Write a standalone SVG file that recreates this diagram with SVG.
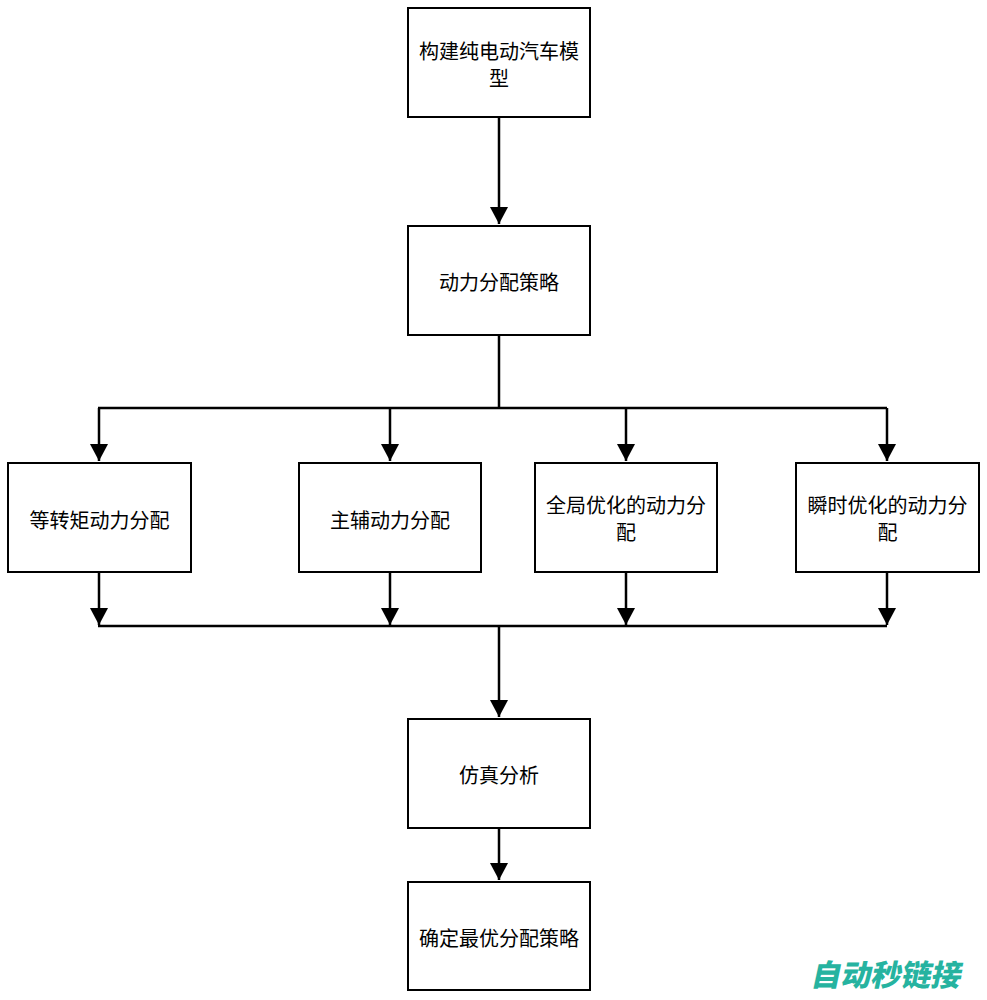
<svg xmlns="http://www.w3.org/2000/svg" width="987" height="1000" viewBox="0 0 987 1000">
<style>
.box{fill:#fff;stroke:#000;stroke-width:2}
.t{font-family:"Noto Sans CJK SC","Noto Sans",sans-serif;font-size:20px;fill:#000;text-anchor:middle;dominant-baseline:central}
.c{stroke:#000;stroke-width:2.5;fill:none}
.wm{font-family:"Noto Sans CJK SC",sans-serif;font-size:30px;font-weight:900;fill:#26b3a0}
</style>
<defs>
<marker id="ah" markerUnits="userSpaceOnUse" markerWidth="18" markerHeight="18" viewBox="0 0 18 18" refX="17" refY="9" orient="auto">
<path d="M0,0 L17,9 L0,18 Z" fill="#000"/>
</marker>
</defs>
<rect width="987" height="1000" fill="#fff"/>
<g id="connectors">
<path class="c" d="M499,117 V224" marker-end="url(#ah)"/>
<path class="c" d="M499,335 V408"/>
<path class="c" d="M98,408 H887"/>
<path class="c" d="M99,408 V461" marker-end="url(#ah)"/>
<path class="c" d="M390,408 V461" marker-end="url(#ah)"/>
<path class="c" d="M626,408 V461" marker-end="url(#ah)"/>
<path class="c" d="M887,408 V461" marker-end="url(#ah)"/>
<path class="c" d="M99,572 V625" marker-end="url(#ah)"/>
<path class="c" d="M390,572 V625" marker-end="url(#ah)"/>
<path class="c" d="M626,572 V625" marker-end="url(#ah)"/>
<path class="c" d="M887,572 V625" marker-end="url(#ah)"/>
<path class="c" d="M98,626 H887"/>
<path class="c" d="M499,626 V717" marker-end="url(#ah)"/>
<path class="c" d="M499,828 V880" marker-end="url(#ah)"/>
</g>
<g id="n1"><rect class="box" x="408" y="8" width="182" height="109"/><text class="t" x="499" y="50">构建纯电动汽车模</text><text class="t" x="499" y="77">型</text></g>
<g id="n2"><rect class="box" x="408" y="226" width="182" height="109"/><text class="t" x="499" y="281">动力分配策略</text></g>
<g id="n3"><rect class="box" x="8" y="463" width="183" height="109"/><text class="t" x="99.5" y="519">等转矩动力分配</text></g>
<g id="n4"><rect class="box" x="299" y="463" width="182" height="109"/><text class="t" x="390" y="519">主辅动力分配</text></g>
<g id="n5"><rect class="box" x="535" y="463" width="182" height="109"/><text class="t" x="626" y="504">全局优化的动力分</text><text class="t" x="626" y="531">配</text></g>
<g id="n6"><rect class="box" x="796" y="463" width="183" height="109"/><text class="t" x="887.5" y="504">瞬时优化的动力分</text><text class="t" x="887.5" y="531">配</text></g>
<g id="n7"><rect class="box" x="408" y="719" width="182" height="109"/><text class="t" x="499" y="774">仿真分析</text></g>
<g id="n8"><rect class="box" x="408" y="882" width="182" height="108"/><text class="t" x="499" y="937">确定最优分配策略</text></g>
<text class="wm" x="0" y="0" transform="translate(810,986) skewX(-12)">自动秒链接</text>
</svg>
